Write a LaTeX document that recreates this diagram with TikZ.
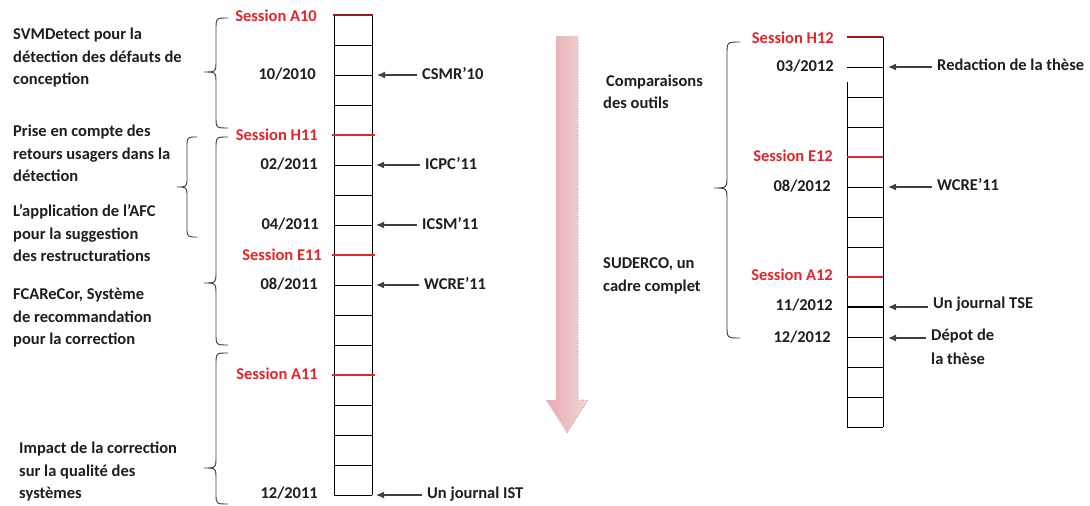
\documentclass[tikz,border=0pt]{standalone}
\usepackage{fontspec}
\setmainfont{Carlito}
\usetikzlibrary{arrows.meta}
\definecolor{txt}{HTML}{1E1E1E}
\definecolor{sred}{HTML}{E3262B}
\definecolor{dred}{HTML}{9E1A1A}
\definecolor{arrL}{HTML}{E4AAB0}
\definecolor{arrR}{HTML}{F3D6D8}
\definecolor{arrE}{HTML}{9C7A7E}
\definecolor{brc}{HTML}{3A3A3A}
\begin{document}
\begin{tikzpicture}[x=1pt,y=-1pt,
  lbl/.style={font=\fontsize{16.5}{22.5}\selectfont\bfseries, text=txt, inner sep=0pt},
  desc/.style={lbl, align=left, anchor=base west},
  datelbl/.style={lbl, anchor=mid east, yshift=-2.5pt},
  sess/.style={lbl, text=sred, anchor=mid east, yshift=-2.5pt},
  reflbl/.style={lbl, anchor=mid west, inner xsep=5pt, yshift=-2.5pt},
  arr/.style={-{Latex[length=8pt,width=7pt]}, draw=txt!85, line width=1.2pt},
  cell/.style={draw=black, line width=1pt},
  redline/.style={draw=sred, line width=1.6pt},
  brace/.style={draw=brc, line width=0.9pt, line cap=round}]
\useasboundingbox (0,0) rectangle (1090,506);
\fill[white] (0,0) rectangle (1090,506);

% ---------- left timeline ----------
\foreach \k in {0,...,16} \draw[cell] (334,15+30*\k) -- (372,15+30*\k);
\draw[cell] (334,15) -- (334,495);
\draw[cell] (372,15) -- (372,495);
\foreach \y in {135,255,375} \draw[redline] (332,\y) -- (375,\y);
\draw[dred, line width=2.5pt] (333,15) -- (373,15);

% ---------- right timeline ----------
\foreach \y in {67,97,...,427} \draw[cell] (847,\y) -- (883,\y);
\draw[cell] (883,37) -- (883,427);
\draw[cell] (847,82) -- (847,427);
\foreach \y in {157,277} \draw[redline] (847,\y) -- (883,\y);
\draw[dred, line width=1.6pt] (847,37) -- (883,37);
\draw[black, line width=2pt] (847,307) -- (883,307);

% ---------- big pink arrow ----------
\shade[left color=arrL, right color=arrR]
  (556,36) -- (578,36) -- (578,400) -- (588,400) -- (567,433) -- (546,400) -- (556,400) -- cycle;
\draw[arrE, line width=0.7pt, dotted] (578,38) -- (578,400) -- (588,400) -- (567,433);

% ---------- tip coordinates ----------
\coordinate (tA) at (377,75);
\coordinate (tB) at (376,165);
\coordinate (tC) at (376,225);
\coordinate (tD) at (376,285);
\coordinate (tE) at (376,495);
\coordinate (tF) at (888,67);
\coordinate (tG) at (888,187);
\coordinate (tH) at (888,307);
\coordinate (tI) at (888,338);

% ---------- session / date labels (left) ----------
\node[sess] (sA10) at (317,17) {Session A10};
\node[datelbl] (d1010) at (316,75) {10/2010};
\node[sess] (sH11) at (318,136) {Session H11};
\node[datelbl] (d0211) at (318,165) {02/2011};
\node[datelbl] (d0411) at (319,225) {04/2011};
\node[sess] (sE11) at (322,256) {Session E11};
\node[datelbl] (d0811) at (318,285) {08/2011};
\node[sess] (sA11) at (318,375) {Session A11};
\node[datelbl] (d1211) at (318,494) {12/2011};

% ---------- session / date labels (right) ----------
\node[sess] (sH12) at (834,39) {Session H12};
\node[datelbl] (d0312) at (834,67) {03/2012};
\node[sess] (sE12) at (833,157) {Session E12};
\node[datelbl] (d0812) at (831,187) {08/2012};
\node[sess] (sA12) at (833,276) {Session A12};
\node[datelbl] (d1112) at (833,306) {11/2012};
\node[datelbl] (d1212) at (831,338) {12/2012};

% ---------- publication labels ----------
\node[reflbl] (csmr) at (417,75) {CSMR’10};
\node[reflbl] (icpc) at (420,165) {ICPC’11};
\node[reflbl] (icsm) at (417,225) {ICSM’11};
\node[reflbl] (wcreA) at (419,285) {WCRE’11};
\node[reflbl] (ist) at (422,494) {Un journal IST};
\node[reflbl] (redac) at (932,66) {Redaction de la thèse};
\node[reflbl] (wcreB) at (932,186) {WCRE’11};
\node[reflbl] (tse) at (928,304) {Un journal TSE};
\node[desc, inner xsep=5pt, font=\fontsize{16.5}{24}\selectfont\bfseries] (depot) at (926,364) {Dépot de\\la thèse};

\draw[arr] (csmr.west |- tA) -- (tA);
\draw[arr] (icpc.west |- tB) -- (tB);
\draw[arr] (icsm.west |- tC) -- (tC);
\draw[arr] (wcreA.west |- tD) -- (tD);
\draw[arr] (ist.west |- tE) -- (tE);
\draw[arr] (redac.west |- tF) -- (tF);
\draw[arr] (wcreB.west |- tG) -- (tG);
\draw[arr] (tse.west |- tH) -- (tH);
\draw[arr] (depot.west |- tI) -- (tI);

% ---------- descriptions (anchor = baseline of last line) ----------
\node[desc] (svm) at (13,84.5) {SVMDetect pour la\\détection des défauts de\\conception};
\node[desc] (prise) at (13,181.5) {Prise en compte des\\retours usagers dans la\\détection};
\node[desc] (afc) at (13,261.5) {L’application de l’AFC\\pour la suggestion\\des restructurations};
\node[desc] (fca) at (13,344.5) {FCAReCor, Système\\de recommandation\\pour la correction};
\node[desc] (impact) at (19,498.5) {Impact de la correction\\sur la qualité des\\systèmes};
\node[desc] (comp) at (603,108.5) {\hspace{3pt}Comparaisons\\des outils};
\node[desc] (sud) at (603,291) {SUDERCO, un\\cadre complet};

% ---------- braces ----------
\draw[brace] (228,18) .. controls (216,18) .. (216,30) -- (216,60)
  .. controls (216,72) .. (204,72) .. controls (216,72) .. (216,84)
  -- (216,116) .. controls (216,128) .. (228,128);
\draw[brace] (228,137) .. controls (216,137) .. (216,149) -- (216,271)
  .. controls (216,283) .. (204,283) .. controls (216,283) .. (216,295)
  -- (216,333) .. controls (216,345) .. (228,345);
\draw[brace] (228,353) .. controls (216,353) .. (216,365) -- (216,456)
  .. controls (216,468) .. (204,468) .. controls (216,468) .. (216,480)
  -- (216,493) .. controls (216,504) .. (228,504);
\draw[brace] (197,137) .. controls (187,137) .. (187,147) -- (187,177)
  .. controls (187,187) .. (177,187) .. controls (187,187) .. (187,197)
  -- (187,227) .. controls (187,237) .. (197,237);
\draw[brace] (740,42) .. controls (727,42) .. (727,55) -- (727,175)
  .. controls (727,188) .. (714,188) .. controls (727,188) .. (727,201)
  -- (727,325) .. controls (727,338) .. (740,338);
\end{tikzpicture}
\end{document}
